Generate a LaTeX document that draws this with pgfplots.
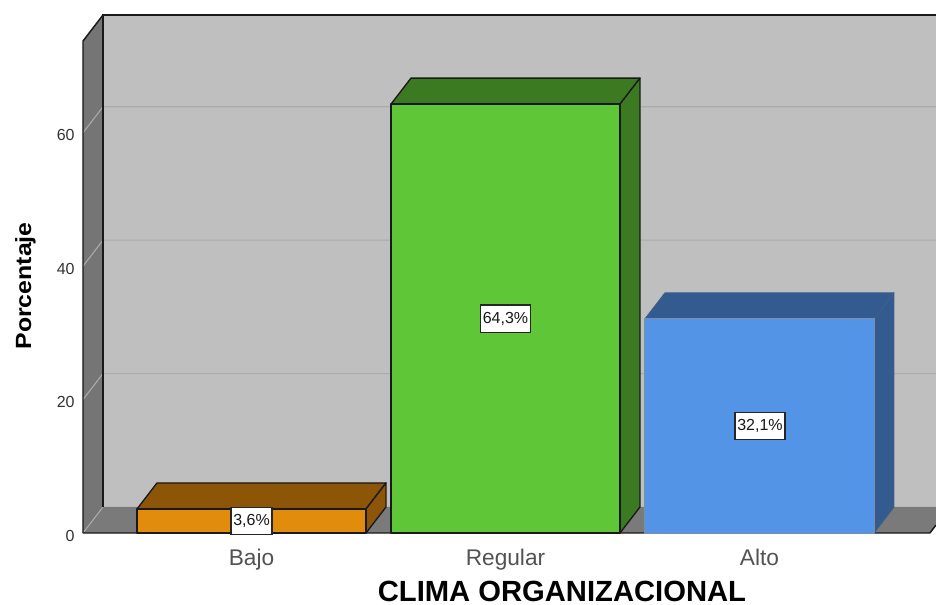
\documentclass[border=0pt]{standalone}
\usepackage{fontspec}
\setmainfont{Liberation Sans}
\usepackage{graphicx}
\usepackage{pgfplots}
\pgfplotsset{compat=1.18}
\definecolor{wall}{HTML}{BFBFBF}
\definecolor{side}{HTML}{757575}
\definecolor{floorc}{HTML}{7A7A7A}
\definecolor{gridc}{HTML}{ABABAB}
\definecolor{oF}{HTML}{E28C0D}
\definecolor{oD}{HTML}{8C5508}
\definecolor{gF}{HTML}{5FC637}
\definecolor{gD}{HTML}{3C7A22}
\definecolor{bF}{HTML}{5494E6}
\definecolor{bD}{HTML}{345B90}
\definecolor{bE}{HTML}{3F5F85}
\begin{document}
\begin{tikzpicture}
\path[use as bounding box] (-62.25pt,-53.25pt) rectangle (639.75pt,399.75pt);
\begin{axis}[
  scale only axis, width=639.75pt, height=388.5pt,
  xmin=-0.6634, xmax=2.6949, ymin=0, ymax=77.66,
  clip=false,
  axis line style={draw=none},
  major tick length=0pt,
  xtick={0,1,2},
  xticklabels={Bajo,Regular,Alto},
  ytick={0,20,40,60},
  /pgf/number format/assume math mode=true,
  xticklabel style={font=\fontsize{17}{20}\selectfont, text=black!68, yshift=-8.5pt},
  yticklabel style={font=\fontsize{12}{14}\selectfont, text=black!80, xshift=-2.8pt, yshift=-2pt},
  xlabel={\textbf{CLIMA ORGANIZACIONAL}},
  xlabel style={font=\fontsize{21.9}{24}\selectfont, at={(axis description cs:0.5615,-0.112)}, anchor=center, inner sep=0pt, text depth=0pt},
  ylabel={\scalebox{1.13}[1]{\textbf{Porcentaje}}},
  ylabel style={font=\fontsize{16.5}{20}\selectfont, at={(axis description cs:-0.0675,0.477)}, anchor=center},
]
% walls and floor
\addplot[fill=wall, draw=none] coordinates {(-0.5847,3.9) (2.6949,3.9) (2.6949,77.66) (-0.5847,77.66)} -- cycle;
\addplot[fill=floorc, draw=none] coordinates {(-0.6634,0) (-0.5847,3.9) (2.6949,3.9) (2.6949,1.2) (2.671,0)} -- cycle;
\addplot[fill=side, draw=none] coordinates {(-0.6634,0) (-0.6634,73.76) (-0.5847,77.66) (-0.5847,3.9)} -- cycle;
% grid
\addplot[gridc, line width=0.8pt] coordinates {(-0.6634,20) (-0.5847,23.9) (2.6949,23.9)};
\addplot[gridc, line width=0.8pt] coordinates {(-0.6634,40) (-0.5847,43.9) (2.6949,43.9)};
\addplot[gridc, line width=0.8pt] coordinates {(-0.6634,60) (-0.5847,63.9) (2.6949,63.9)};
\addplot[gridc, line width=0.8pt] coordinates {(-0.6634,0) (-0.5847,3.9)};
% frame
\addplot[black!90, line width=1.1pt] coordinates {(-0.5847,3.9) (-0.5847,77.66) (2.6949,77.66)};
\addplot[black!90, line width=1.1pt] coordinates {(-0.6634,0) (-0.6634,73.76) (-0.5847,77.66)};
\addplot[black!90, line width=1.1pt] coordinates {(-0.6634,0) (2.671,0) (2.6949,1.2)};
% Bajo
\addplot[fill=oD, draw=black!90, line width=1pt, line join=round] coordinates {(-0.4508,3.6) (-0.3721,7.5) (0.5295,7.5) (0.4508,3.6)} -- cycle;
\addplot[fill=oD, draw=black!90, line width=1pt, line join=round] coordinates {(0.4508,0) (0.5295,3.9) (0.5295,7.5) (0.4508,3.6)} -- cycle;
\addplot[fill=oF, draw=black!90, line width=1pt, line join=round] coordinates {(-0.4508,0) (-0.4508,3.6) (0.4508,3.6) (0.4508,0)} -- cycle;
% Regular
\addplot[fill=gD, draw=black!90, line width=1pt, line join=round] coordinates {(0.5492,64.3) (0.6279,68.2) (1.5295,68.2) (1.4508,64.3)} -- cycle;
\addplot[fill=gD, draw=black!90, line width=1pt, line join=round] coordinates {(1.4508,0) (1.5295,3.9) (1.5295,68.2) (1.4508,64.3)} -- cycle;
\addplot[fill=gF, draw=black!90, line width=1pt, line join=round] coordinates {(0.5492,0) (0.5492,64.3) (1.4508,64.3) (1.4508,0)} -- cycle;
% Alto
\addplot[fill=bD, draw=bE, line width=0.7pt, line join=round] coordinates {(1.549,32.1) (1.6277,36) (2.5295,36) (2.4508,32.1)} -- cycle;
\addplot[fill=bD, draw=bE, line width=0.7pt, line join=round] coordinates {(2.4508,0) (2.5295,3.9) (2.5295,36) (2.4508,32.1)} -- cycle;
\addplot[fill=bF, draw=bE!70, line width=0.7pt, line join=round] coordinates {(1.549,0) (1.549,32.1) (2.4508,32.1) (2.4508,0)} -- cycle;
% value labels
\addplot[draw=none, mark=none, point meta=explicit symbolic,
  nodes near coords,
  every node near coord/.style={anchor=center, fill=white, draw=black!85, line width=1pt, inner xsep=1.8pt, inner ysep=0pt, minimum height=20.5pt, font=\fontsize{12}{14}\selectfont, text=black!90}]
  table[meta=lab, row sep=crcr] {
  x y lab\\
  0 1.8 {3,6\%}\\
  1 32.15 {64,3\%}\\
  2.002 16.05 {32,1\%}\\
};
\end{axis}
\end{tikzpicture}
\end{document}
